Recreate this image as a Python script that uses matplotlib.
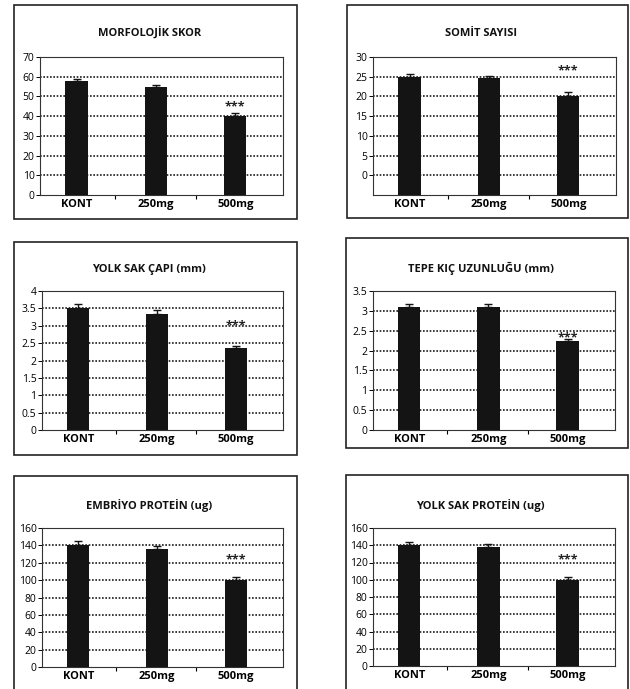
import matplotlib
matplotlib.use('Agg')
import matplotlib.pyplot as plt
from matplotlib.patches import Rectangle
from matplotlib.ticker import FuncFormatter
import numpy as np

plt.rcParams['font.family'] = ['Open Sans', 'DejaVu Sans']

# groups on the x axis
groups = ['KONT', '250mg', '500mg']

# panel titles
titles = ['MORFOLOJİK SKOR', 'SOMİT SAYISI', 'YOLK SAK ÇAPI (mm)',
          'TEPE KIÇ UZUNLUĞU (mm)', 'EMBRİYO PROTEİN (ug)', 'YOLK SAK PROTEİN (ug)']

# means and error (upper only) per panel
morf_mean = [58, 54.7, 40]
morf_err = [1.0, 1.0, 1.7]
somit_mean = [25, 24.6, 20.2]
somit_err = [0.8, 0.5, 1.0]
yolk_cap_mean = [3.52, 3.33, 2.35]
yolk_cap_err = [0.11, 0.12, 0.08]
tepe_mean = [3.1, 3.1, 2.25]
tepe_err = [0.07, 0.07, 0.03]
emb_prot_mean = [140.5, 135.5, 100]
emb_prot_err = [4.0, 4.0, 3.5]
yolk_prot_mean = [140, 137.5, 100]
yolk_prot_err = [3.5, 4.0, 3.5]

# height of the *** mark over the 500mg bar
star_y = [44.5, 26.5, 3.0, 2.33, 123, 123]

# y axis limits and ticks
y_lims = [(0, 70), (-5, 30), (0, 4), (0, 3.5), (0, 160), (0, 160)]
y_steps = [10, 5, 0.5, 0.5, 20, 20]

means = [morf_mean, somit_mean, yolk_cap_mean, tepe_mean, emb_prot_mean, yolk_prot_mean]
errs = [morf_err, somit_err, yolk_cap_err, tepe_err, emb_prot_err, yolk_prot_err]

W, H = 630, 689
fig = plt.figure(figsize=(W / 100, H / 100), dpi=100)
fig.patch.set_facecolor('white')

# pixel boxes: frame (x0, y0, x1, y1) and axes (x0, y0, x1, y1), title y
frames = [(14, 5, 297, 219), (347, 5, 628, 218),
          (14, 242, 297, 455), (346, 238, 628, 448),
          (14, 476, 297, 700), (346, 475, 628, 700)]
axboxes = [(40, 57, 283, 195), (373, 57, 616, 195),
           (42, 291, 283, 430), (373, 291, 615, 430),
           (42, 528, 283, 667), (373, 528, 615, 666)]
title_y = [33, 33, 269, 268, 505, 505]


def px_rect(x0, y0, x1, y1):
    return [x0 / W, 1 - y1 / H, (x1 - x0) / W, (y1 - y0) / H]


for i in range(6):
    fx0, fy0, fx1, fy1 = frames[i]
    fig.patches.append(Rectangle((fx0 / W, 1 - fy1 / H), (fx1 - fx0) / W, (fy1 - fy0) / H,
                                 transform=fig.transFigure, fill=False,
                                 edgecolor='#222222', linewidth=1.2))
    ax = fig.add_axes(px_rect(*axboxes[i]))
    lo, hi = y_lims[i]
    x = np.arange(len(groups))
    vals = np.array(means[i])
    ax.bar(x, vals - lo, bottom=lo, width=0.28, color='#141414', zorder=3)
    ax.errorbar(x, vals, yerr=[np.zeros(3), errs[i]], fmt='none', ecolor='#141414',
                elinewidth=1, capsize=3, capthick=1, zorder=4)
    ax.text(2, star_y[i], '***', ha='center', va='center', fontsize=9,
            fontweight='bold', color='#222222', zorder=5)

    ax.set_xlim(-0.46, 2.6)
    ax.set_ylim(lo, hi)
    ticks = np.arange(max(lo, 0), hi + y_steps[i] / 2, y_steps[i])
    ax.set_yticks(ticks)
    ax.yaxis.set_major_formatter(FuncFormatter(lambda v, p: '%g' % v))
    for t in ticks:
        if t > lo and t < hi:
            ax.axhline(t, color='#1a1a1a', linestyle=(0, (1, 1)), linewidth=1.2, zorder=1)
    ax.set_xticks(x)
    ax.set_xticklabels(groups, fontsize=8, fontweight='bold')
    ax.tick_params(axis='x', length=0, pad=3)
    ax.set_xticks([0.48, 1.5], minor=True)
    ax.tick_params(axis='x', which='minor', length=3, direction='out', width=0.8)
    ax.tick_params(axis='y', labelsize=7.5, length=3, width=0.7, pad=1)
    for s in ax.spines.values():
        s.set_linewidth(0.8)
        s.set_color('#333333')

    fig.text((fx0 + fx1) / 2 / W - 0.01, 1 - title_y[i] / H, titles[i], ha='center',
             va='center', fontsize=8, fontweight='bold', color='#111111')

fig.savefig('out.png', dpi=100)
